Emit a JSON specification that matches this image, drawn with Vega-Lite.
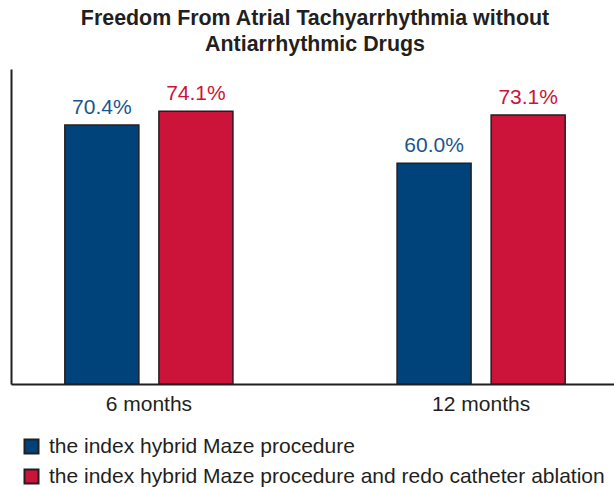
{
  "$schema": "https://vega.github.io/schema/vega-lite/v6.json",
  "width": 608,
  "height": 315,
  "autosize": "none",
  "padding": {"left": 11, "top": 69, "right": 0, "bottom": 103},
  "background": "white",
  "config": {"font": "Liberation Sans", "view": {"stroke": null}},
  "title": {
    "text": ["Freedom From Atrial Tachyarrhythmia without", "Antiarrhythmic Drugs"],
    "fontSize": 21.4,
    "fontWeight": "bold",
    "color": "#231f20",
    "anchor": "middle",
    "lineHeight": 26,
    "offset": 14
  },
  "data": {
    "values": [
      {"time": "6 months", "group": "the index hybrid Maze procedure", "value": 70.4, "label": "70.4%"},
      {"time": "6 months", "group": "the index hybrid Maze procedure and redo catheter ablation", "value": 74.1, "label": "74.1%"},
      {"time": "12 months", "group": "the index hybrid Maze procedure", "value": 60.0, "label": "60.0%"},
      {"time": "12 months", "group": "the index hybrid Maze procedure and redo catheter ablation", "value": 73.1, "label": "73.1%"}
    ]
  },
  "encoding": {
    "x": {
      "field": "time", "type": "nominal", "sort": ["6 months", "12 months"],
      "scale": {"paddingInner": 0.494, "paddingOuter": 0.162},
      "axis": {"title": null, "labelAngle": 0, "labelFontSize": 21, "labelColor": "#231f20", "ticks": false, "domainColor": "#231f20", "domainWidth": 2, "labelPadding": 9}
    },
    "xOffset": {
      "field": "group", "type": "nominal",
      "sort": ["the index hybrid Maze procedure", "the index hybrid Maze procedure and redo catheter ablation"],
      "scale": {"paddingInner": 0.213, "paddingOuter": 0}
    },
    "y": {
      "field": "value", "type": "quantitative",
      "scale": {"domain": [0, 85.6], "nice": false},
      "axis": {"title": null, "labels": false, "ticks": false, "grid": false, "domainColor": "#231f20", "domainWidth": 2}
    }
  },
  "layer": [
    {
      "mark": {"type": "bar", "stroke": "#231f20", "strokeWidth": 1.5},
      "encoding": {
        "color": {
          "field": "group", "type": "nominal",
          "sort": ["the index hybrid Maze procedure", "the index hybrid Maze procedure and redo catheter ablation"],
          "scale": {"range": ["#00427a", "#cc1339"]},
          "legend": {
            "title": null, "orient": "none", "legendX": 10, "legendY": 367,
            "direction": "vertical", "symbolType": "square", "symbolSize": 196,
            "symbolStrokeColor": "#231f20", "symbolStrokeWidth": 2, "symbolOpacity": 1,
            "labelFontSize": 21, "labelColor": "#231f20", "rowPadding": 7, "labelLimit": 700, "labelOffset": 7
          }
        }
      }
    },
    {
      "mark": {"type": "text", "fontSize": 21, "baseline": "alphabetic", "dy": -11},
      "encoding": {
        "text": {"field": "label"},
        "color": {
          "field": "group", "type": "nominal",
          "scale": {"range": ["#1a5590", "#cc1339"]},
          "legend": null
        }
      }
    }
  ],
  "resolve": {"scale": {"color": "independent"}}
}
